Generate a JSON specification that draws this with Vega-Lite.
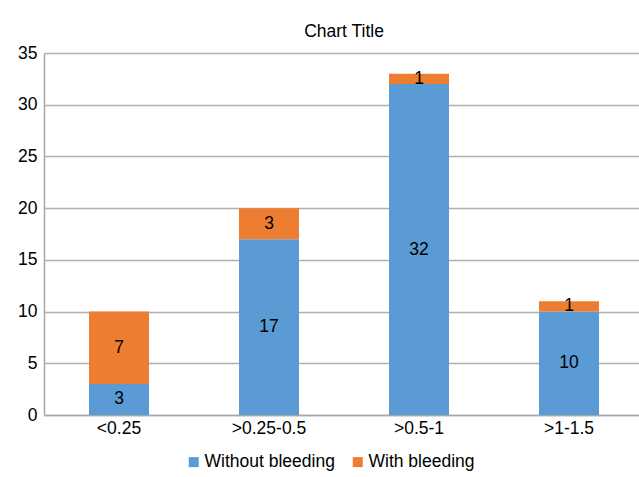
{
  "$schema": "https://vega.github.io/schema/vega-lite/v6.json",
  "width": 600,
  "height": 362,
  "autosize": {"type": "none"},
  "padding": {"left": 44, "top": 53, "right": 0, "bottom": 62},
  "background": "white",
  "title": {"text": "Chart Title", "fontSize": 17.5, "font": "Liberation Sans", "fontWeight": "normal", "color": "#000000", "offset": 4},
  "config": {
    "view": {"stroke": null},
    "axis": {"labelFont": "Liberation Sans", "labelFontSize": 17.5, "labelColor": "#000000", "titleFont": "Liberation Sans"},
    "legend": {"labelFont": "Liberation Sans", "labelFontSize": 17.5, "labelColor": "#000000"}
  },
  "data": {
    "values": [
      {"range": "<0.25", "series": "Without bleeding", "count": 3},
      {"range": "<0.25", "series": "With bleeding", "count": 7},
      {"range": ">0.25-0.5", "series": "Without bleeding", "count": 17},
      {"range": ">0.25-0.5", "series": "With bleeding", "count": 3},
      {"range": ">0.5-1", "series": "Without bleeding", "count": 32},
      {"range": ">0.5-1", "series": "With bleeding", "count": 1},
      {"range": ">1-1.5", "series": "Without bleeding", "count": 10},
      {"range": ">1-1.5", "series": "With bleeding", "count": 1}
    ]
  },
  "encoding": {
    "x": {
      "field": "range", "type": "nominal", "sort": ["<0.25", ">0.25-0.5", ">0.5-1", ">1-1.5"],
      "scale": {"paddingInner": 0.6, "paddingOuter": 0.3},
      "axis": {"title": null, "labelAngle": 0, "ticks": false, "domainColor": "#a6a6a6", "domainWidth": 1.5, "labelPadding": 4}
    },
    "y": {
      "field": "count", "type": "quantitative", "stack": "zero",
      "scale": {"domain": [0, 35], "nice": false},
      "axis": {"title": null, "values": [0, 5, 10, 15, 20, 25, 30, 35], "ticks": false, "domainColor": "#a6a6a6", "domainWidth": 1.5, "gridColor": "#b0b0b0", "gridWidth": 1.5, "labelPadding": 7}
    },
    "order": {"field": "series", "sort": "descending"}
  },
  "layer": [
    {
      "mark": {"type": "bar"},
      "encoding": {
        "color": {
          "field": "series", "type": "nominal",
          "scale": {"domain": ["Without bleeding", "With bleeding"], "range": ["#5b9bd5", "#ed7d31"]},
          "legend": {"title": null, "orient": "none", "direction": "horizontal", "legendX": 141, "legendY": 400, "symbolType": "square", "symbolSize": 100, "symbolStrokeWidth": 0, "columnPadding": 14, "labelOffset": 2}
        }
      }
    },
    {
      "mark": {"type": "text", "fontSize": 17.5, "font": "Liberation Sans", "color": "#000000"},
      "encoding": {
        "y": {"field": "count", "type": "quantitative", "stack": "zero", "bandPosition": 0.5},
        "text": {"field": "count", "type": "quantitative"}
      }
    }
  ]
}
